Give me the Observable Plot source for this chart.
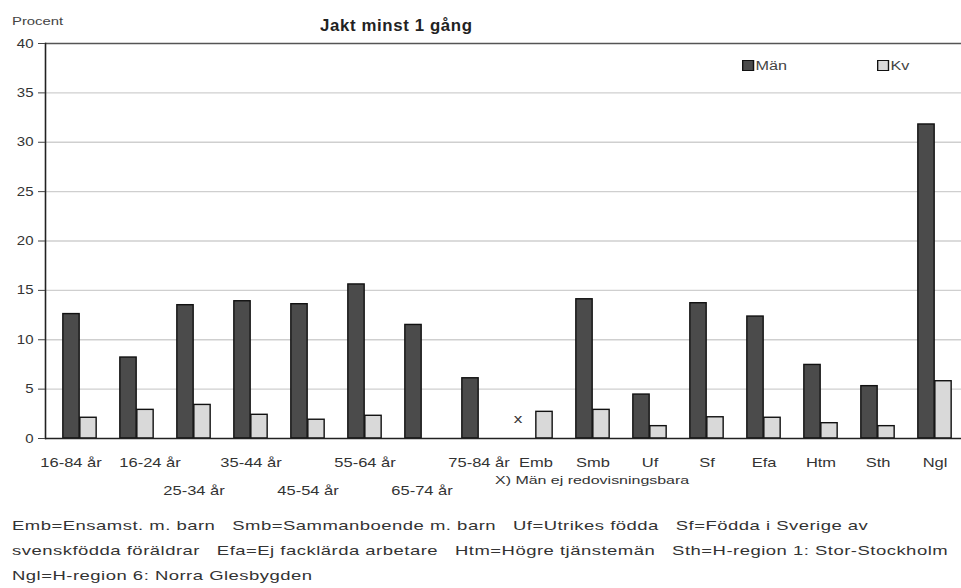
<!DOCTYPE html>
<html>
<head>
<meta charset="utf-8">
<script src="https://cdn.jsdelivr.net/npm/d3@7"></script>
<script src="https://cdn.jsdelivr.net/npm/@observablehq/plot@0.6"></script>
<style>
  html, body { margin: 0; padding: 0; background: #fff; overflow: hidden; }
  body { width: 961px; height: 588px; font-family: "Liberation Sans", Arial, sans-serif; color: #333; }
  #wrap { position: relative; width: 961px; height: 588px; overflow: hidden; }
  #chart { position: absolute; left: 0; top: 0; width: 961px; overflow: hidden; }
  .abs { position: absolute; white-space: pre; transform-origin: 0 50%; }
  #title { left: 320px; top: 17px; font-weight: bold; font-size: 16px; color: #222; letter-spacing: 0.6px; transform: scaleX(1.05); }
  #ylabel { left: 12px; top: 15px; font-size: 11px; color: #444; transform: scaleX(1.35); }
  .leg { font-size: 12px; color: #444; transform: scaleX(1.35); }
  .sw { display: inline-block; width: 7px; height: 9px; border: 1px solid #111; vertical-align: -1px; margin-right: 1px; }
  #note { left: 495px; top: 474px; font-size: 11px; color: #333; transform: scaleX(1.45); }
  .cap { left: 12px; font-size: 13px; color: #333; letter-spacing: 0.35px; transform: scaleX(1.42); }
</style>
</head>
<body>
<div id="wrap">
  <div id="chart"></div>
</div>
<script>
const categories = ["16-84 år","16-24 år","25-34 år","35-44 år","45-54 år","55-64 år","65-74 år","75-84 år","Emb","Smb","Uf","Sf","Efa","Htm","Sth","Ngl"];
const man = [12.6, 8.2, 13.5, 13.9, 13.6, 15.6, 11.5, 6.1, null, 14.1, 4.45, 13.7, 12.35, 7.45, 5.3, 31.8];
const kv  = [2.1, 2.9, 3.4, 2.4, 1.9, 2.3, null, null, 2.7, 2.9, 1.25, 2.15, 2.1, 1.55, 1.25, 5.8];
const yTicks = [0, 5, 10, 15, 20, 25, 30, 35, 40];
const lowerRow = ["25-34 år", "45-54 år", "65-74 år"];
const missingMarker = [{cat: "Emb", value: 2, label: "x"}];
const title = "Jakt minst 1 gång";
const yLabel = "Procent";
const seriesNames = ["Män", "Kv"];
const footnote = "X) Män ej redovisningsbara";
const captionLines = [
  "Emb=Ensamst. m. barn   Smb=Sammanboende m. barn   Uf=Utrikes födda   Sf=Födda i Sverige av",
  "svenskfödda föräldrar   Efa=Ej facklärda arbetare   Htm=Högre tjänstemän   Sth=H-region 1: Stor-Stockholm",
  "Ngl=H-region 6: Norra Glesbygden"
];

const colMan = "#4b4b4b";
const colKv = "#d9d9d9";

const manData = categories.map((c, i) => ({cat: c, value: man[i]})).filter(d => d.value != null);
const kvData = categories.map((c, i) => ({cat: c, value: kv[i]})).filter(d => d.value != null);

// the reference's plot area runs slightly past the right edge of the picture
const W = 961, mL = 45, mR = -7;
const barW = 17;
const bandW = (W - mL - mR) / categories.length;
const inset = (bandW - barW) / 2;

const row1 = categories.filter(c => !lowerRow.includes(c) && c !== "16-84 år" && c !== "16-24 år");
const row2 = categories.filter(c => lowerRow.includes(c));
const lab = {fontSize: 12.5, fill: "#333", frameAnchor: "bottom"};

const plot = Plot.plot({
  width: W,
  height: 505,
  marginTop: 43,
  marginLeft: mL,
  marginRight: mR,
  marginBottom: 67,
  style: {fontFamily: "'Liberation Sans', Arial, sans-serif", fontSize: "12.5px", color: "#333", background: "transparent", overflow: "hidden"},
  x: {domain: categories, padding: 0, axis: null},
  y: {domain: [0, 40], axis: null},
  marks: [
    Plot.ruleY(yTicks.filter(t => t > 0 && t < 40), {stroke: "#cfcfcf", strokeWidth: 1.3}),
    Plot.ruleY([40], {stroke: "#555", strokeWidth: 1.6}),
    Plot.barY(manData, {x: "cat", y: "value", fill: colMan, stroke: "#111", strokeWidth: 1.4, insetLeft: inset, insetRight: inset, dx: -barW / 2}),
    Plot.barY(kvData, {x: "cat", y: "value", fill: colKv, stroke: "#111", strokeWidth: 1.4, insetLeft: inset, insetRight: inset, dx: barW / 2}),
    Plot.ruleY([0], {stroke: "#222", strokeWidth: 1.6}),
    Plot.frame({anchor: "left", stroke: "#222", strokeWidth: 1.6}),
    Plot.axisY(yTicks, {tickSize: 7, tickPadding: 5, tickFormat: d => String(d), fontSize: 12.5, stroke: "#444", anchor: "left", label: null, className: "yax"}),
    Plot.text(missingMarker, {x: "cat", y: "value", text: "label", dx: -18, fontSize: 13, fill: "#333"}),
    Plot.text(row1, {...lab, x: d => d, text: d => d, dy: 28}),
    Plot.text(["16-84 år"], {...lab, x: d => d, text: d => d, dy: 28, dx: -9}),
    Plot.text(["16-24 år"], {...lab, x: d => d, text: d => d, dy: 28, dx: 13}),
    Plot.text(row2, {...lab, x: d => d, text: d => d, dy: 56})
  ]
});

// widen glyphs horizontally around each text's anchor, like the reference's stretched lettering
plot.querySelectorAll("text").forEach(t => {
  const isY = t.closest(".yax") !== null;
  const s = isY ? 1.2 : 1.32;
  const x = parseFloat(t.getAttribute("x") || 0);
  const y = parseFloat(t.getAttribute("y") || 0);
  const tr = t.getAttribute("transform") || "";
  t.setAttribute("transform", `${tr} translate(${x},${y}) scale(${s},1) translate(${-x},${-y})`);
});
document.getElementById("chart").appendChild(plot);

const wrap = document.getElementById("wrap");
function addDiv(id, cls, text, styles) {
  const d = document.createElement("div");
  if (id) d.id = id;
  d.className = "abs " + (cls || "");
  d.textContent = text;
  Object.assign(d.style, styles || {});
  wrap.appendChild(d);
  return d;
}
addDiv("title", "", title);
addDiv("ylabel", "", yLabel);
addDiv("note", "", footnote);

// legend
const legLeft = [742, 877];
[colMan, colKv].forEach((c, i) => {
  const d = document.createElement("div");
  d.className = "abs leg";
  Object.assign(d.style, {left: legLeft[i] + "px", top: "59px"});
  const sw = document.createElement("span");
  sw.className = "sw";
  sw.style.background = c;
  d.appendChild(sw);
  d.appendChild(document.createTextNode(seriesNames[i]));
  wrap.appendChild(d);
});

captionLines.forEach((line, i) => {
  addDiv(null, "cap", line, {top: (518 + i * 25) + "px"});
});
</script>
</body>
</html>
